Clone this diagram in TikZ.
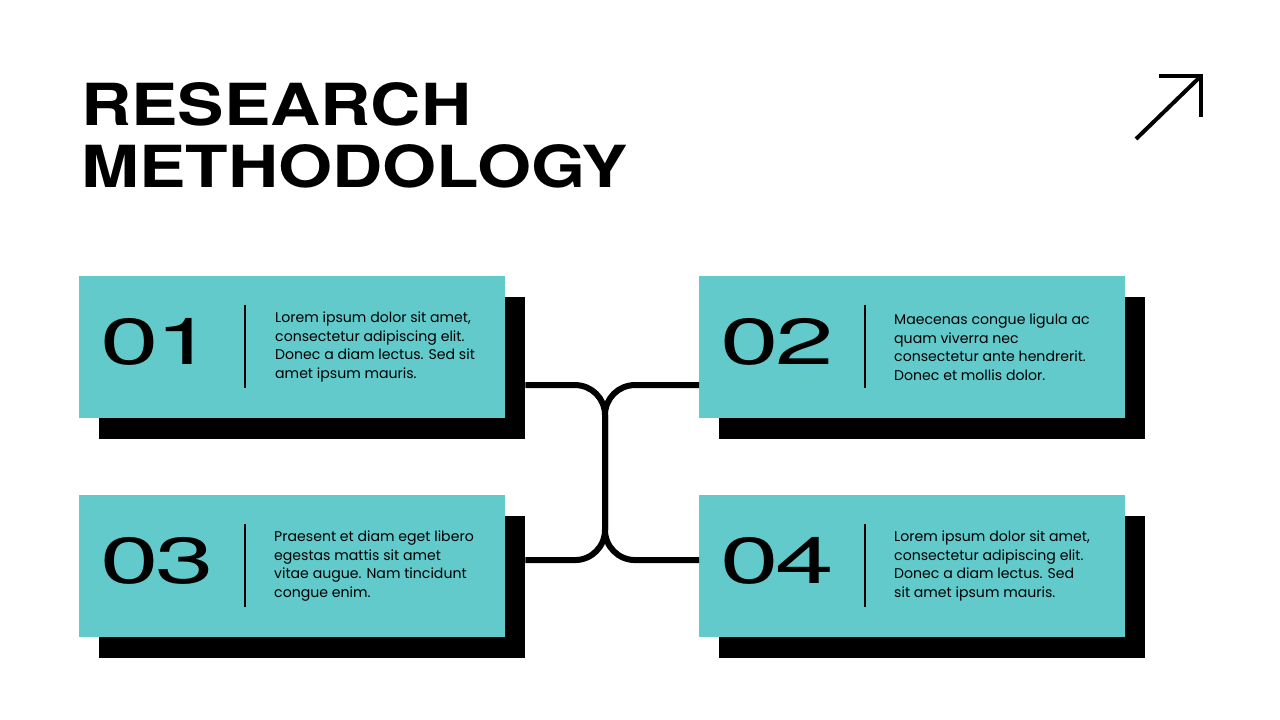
\documentclass[tikz,border=0pt]{standalone}
\usepackage{fontspec}
\setmainfont{Poppins}
\newfontfamily\titlefont[FakeStretch=1.2]{TeX Gyre Heros}
\newfontfamily\numfont[FakeStretch=1.62,LetterSpace=-6]{TeX Gyre Heros}
\definecolor{turquesa}{HTML}{62CACB}

\begin{document}
\begin{tikzpicture}[x=1pt,y=-1pt,
    caja/.style={fill=turquesa, minimum width=426pt, minimum height=142pt, inner sep=0pt, anchor=north west},
    sombra/.style={fill=black, minimum width=426pt, minimum height=142pt, inner sep=0pt, anchor=north west},
    numero/.style={font=\numfont\fontsize{65}{65}\selectfont, inner sep=0pt},
    texto/.style={font=\fontsize{14.1}{18.5}\selectfont, align=left, anchor=west, inner sep=0pt},
    conector/.style={line width=6pt, rounded corners=30pt}]
    \useasboundingbox[fill=white] (0,0) rectangle (1280,720);
    % Titulo
    \node[anchor=base west, inner sep=0pt, font=\titlefont\bfseries\fontsize{58}{62}\selectfont] (titulo1) at (81,125) {RESEARCH};
    \node[anchor=base west, inner sep=0pt, font=\titlefont\bfseries\fontsize{58}{62}\selectfont] (titulo2) at (81,187) {METHODOLOGY};
    % Flecha
    \coordinate (punta) at (1201,76);
    \draw[line width=4pt] (1136,139) -- (punta);
    \draw[line width=4pt] (1159,76) -- (punta) -- (1201,117);
    % Sombras
    \node[sombra] (s1) at (99,297) {};
    \node[sombra] (s2) at (719,297) {};
    \node[sombra] (s3) at (99,516) {};
    \node[sombra] (s4) at (719,516) {};
    % Cajas
    \node[caja] (c1) at (79,276) {};
    \node[caja] (c2) at (699,276) {};
    \node[caja] (c3) at (79,495) {};
    \node[caja] (c4) at (699,495) {};
    % Conectores
    \coordinate (arriba) at (605,385);
    \coordinate (abajo) at (605,560);
    \draw[conector] ([yshift=-17pt]s1.east) -- (arriba) -- (abajo) -- ([yshift=27pt]s3.east);
    \draw[conector] ([yshift=-38pt]c2.west) -- (arriba) -- (abajo) -- ([yshift=6pt]c4.west);
    % Numeros y separadores
    \foreach \c/\n in {c1/01, c2/02, c3/03, c4/04} {
        \node[numero] (n\n) at ([xshift=78pt,yshift=5pt]\c.west) {\n};
        \draw[line width=2pt] ([xshift=166pt,yshift=42pt]\c.west) -- ([xshift=166pt,yshift=-41pt]\c.west);
    }
    % Textos
    \node[texto] (t1) at ([xshift=196pt]c1.west) {Lorem ipsum dolor sit amet,\\consectetur adipiscing elit.\\Donec a diam lectus. Sed sit\\amet ipsum mauris.};
    \node[texto] (t2) at ([xshift=195pt]c2.west) {Maecenas congue ligula ac\\quam viverra nec\\consectetur ante hendrerit.\\Donec et mollis dolor.};
    \node[texto] (t3) at ([xshift=195pt]c3.west) {Praesent et diam eget libero\\egestas mattis sit amet\\vitae augue. Nam tincidunt\\congue enim.};
    \node[texto] (t4) at ([xshift=195pt]c4.west) {Lorem ipsum dolor sit amet,\\consectetur adipiscing elit.\\Donec a diam lectus. Sed\\sit amet ipsum mauris.};
\end{tikzpicture}
\end{document}
